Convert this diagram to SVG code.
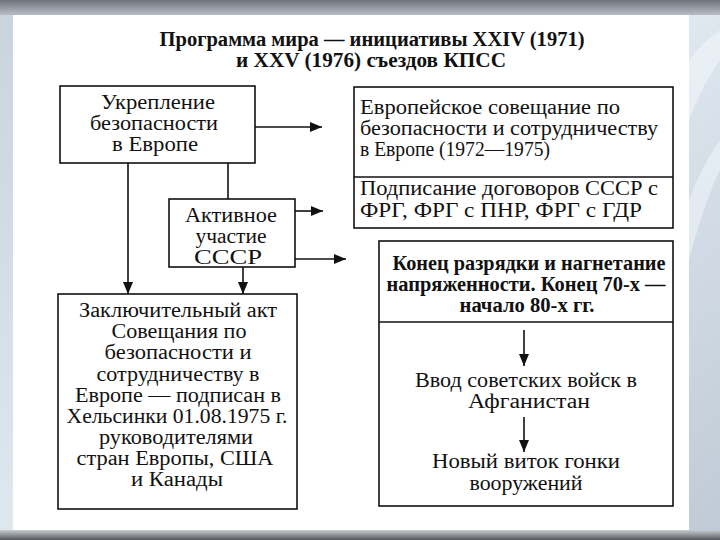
<svg xmlns="http://www.w3.org/2000/svg" width="720" height="540" viewBox="0 0 720 540">
<defs>
<linearGradient id="topg" x1="0" y1="0" x2="0" y2="1">
<stop offset="0" stop-color="#6f737b"/>
<stop offset="1" stop-color="#b9bec6"/>
</linearGradient>
<linearGradient id="botg" x1="0" y1="0" x2="0" y2="1">
<stop offset="0" stop-color="#c8cbd0"/>
<stop offset="1" stop-color="#55585e"/>
</linearGradient>
<linearGradient id="sideg" x1="0" y1="0" x2="1" y2="1">
<stop offset="0" stop-color="#c9d3de"/>
<stop offset="0.5" stop-color="#dfe7ef"/>
<stop offset="1" stop-color="#bfcad6"/>
</linearGradient>
<marker id="ah" markerWidth="12" markerHeight="10" refX="12" refY="5" orient="auto" markerUnits="userSpaceOnUse">
<path d="M0,0 L12,5 L0,10 Z" fill="#111"/>
</marker>
<style>
.box{fill:#fff;stroke:#111;stroke-width:1.6}
.ln{fill:none;stroke:#111;stroke-width:1.6}
.t{font-family:"Liberation Serif","Times New Roman",serif;font-size:20px;fill:#111}
.b{font-weight:bold}
.c{text-anchor:middle}
</style>
</defs>
<rect x="0" y="0" width="720" height="540" fill="url(#sideg)"/>
<path d="M689,60 Q705,40 720,30 L720,60 Q705,80 689,120 Z" fill="#eef3f8" opacity="0.7"/>
<path d="M689,200 Q705,160 720,140 L720,170 Q705,200 689,260 Z" fill="#eef3f8" opacity="0.6"/>
<rect x="0" y="0" width="720" height="15" fill="url(#topg)"/>
<rect x="0" y="530" width="720" height="10" fill="url(#botg)"/>
<rect x="13" y="15" width="676" height="515" fill="#fff"/>

<g id="title">
<text class="t b c" x="372" y="46" textLength="425" lengthAdjust="spacingAndGlyphs">Программа мира — инициативы XXIV (1971)</text>
<text class="t b c" x="371" y="67" textLength="270" lengthAdjust="spacingAndGlyphs">и XXV (1976) съездов КПСС</text>
</g>

<g id="node-ukreplenie">
<rect class="box" x="60" y="86" width="195" height="77"/>
<text class="t c" x="158" y="109" textLength="114" lengthAdjust="spacingAndGlyphs">Укрепление</text>
<text class="t c" x="154" y="130" textLength="128" lengthAdjust="spacingAndGlyphs">безопасности</text>
<text class="t c" x="155" y="151" textLength="86" lengthAdjust="spacingAndGlyphs">в Европе</text>
</g>

<g id="node-aktivnoe">
<rect class="box" x="169" y="199" width="126" height="68"/>
<text class="t c" x="231" y="222" textLength="92" lengthAdjust="spacingAndGlyphs">Активное</text>
<text class="t c" x="231" y="243" textLength="71" lengthAdjust="spacingAndGlyphs">участие</text>
<text class="t c" x="228" y="264" textLength="68" lengthAdjust="spacingAndGlyphs">СССР</text>
</g>

<g id="node-soveshchanie">
<rect class="box" x="354" y="87" width="319" height="141"/>
<line class="ln" x1="354" y1="177" x2="673" y2="177"/>
<text class="t" x="360" y="114" textLength="260" lengthAdjust="spacingAndGlyphs">Европейское совещание по</text>
<text class="t" x="360" y="135" textLength="298" lengthAdjust="spacingAndGlyphs">безопасности и сотрудничеству</text>
<text class="t" x="360" y="156" textLength="190" lengthAdjust="spacingAndGlyphs">в Европе (1972&#8212;1975)</text>
<text class="t" x="360" y="195" textLength="298" lengthAdjust="spacingAndGlyphs">Подписание договоров СССР с</text>
<text class="t" x="360" y="217" textLength="282" lengthAdjust="spacingAndGlyphs">ФРГ, ФРГ с ПНР, ФРГ с ГДР</text>
</g>

<g id="node-zaklyuchitelny">
<rect class="box" x="58" y="294" width="239" height="215"/>
<text class="t c" x="178" y="317" textLength="198" lengthAdjust="spacingAndGlyphs">Заключительный акт</text>
<text class="t c" x="179" y="338" textLength="135" lengthAdjust="spacingAndGlyphs">Совещания по</text>
<text class="t c" x="178" y="359" textLength="147" lengthAdjust="spacingAndGlyphs">безопасности и</text>
<text class="t c" x="178" y="381" textLength="163" lengthAdjust="spacingAndGlyphs">сотрудничеству в</text>
<text class="t c" x="178" y="402" textLength="206" lengthAdjust="spacingAndGlyphs">Европе — подписан в</text>
<text class="t c" x="177" y="423" textLength="221" lengthAdjust="spacingAndGlyphs">Хельсинки 01.08.1975 г.</text>
<text class="t c" x="176" y="444" textLength="154" lengthAdjust="spacingAndGlyphs">руководителями</text>
<text class="t c" x="175" y="465" textLength="197" lengthAdjust="spacingAndGlyphs">стран Европы, США</text>
<text class="t c" x="177" y="486" textLength="92" lengthAdjust="spacingAndGlyphs">и Канады</text>
</g>

<g id="node-konets">
<rect class="box" x="379" y="241" width="294" height="265"/>
<line class="ln" x1="379" y1="322" x2="673" y2="322"/>
<text class="t b c" x="529" y="270" textLength="273" lengthAdjust="spacingAndGlyphs">Конец разрядки и нагнетание</text>
<text class="t b c" x="526" y="291" textLength="279" lengthAdjust="spacingAndGlyphs">напряженности. Конец 70-х —</text>
<text class="t b c" x="527" y="312" textLength="135" lengthAdjust="spacingAndGlyphs">начало 80-х гг.</text>
<text class="t c" x="526" y="387" textLength="222" lengthAdjust="spacingAndGlyphs">Ввод советских войск в</text>
<text class="t c" x="529" y="408" textLength="122" lengthAdjust="spacingAndGlyphs">Афганистан</text>
<text class="t c" x="526" y="468" textLength="188" lengthAdjust="spacingAndGlyphs">Новый виток гонки</text>
<text class="t c" x="526" y="490" textLength="113" lengthAdjust="spacingAndGlyphs">вооружений</text>
</g>

<g id="connectors">
<line class="ln" x1="255" y1="127" x2="322" y2="127" marker-end="url(#ah)"/>
<line class="ln" x1="128" y1="163" x2="128" y2="294" marker-end="url(#ah)"/>
<line class="ln" x1="228" y1="163" x2="228" y2="199"/>
<line class="ln" x1="295" y1="211" x2="323" y2="211" marker-end="url(#ah)"/>
<line class="ln" x1="295" y1="259" x2="346" y2="259" marker-end="url(#ah)"/>
<line class="ln" x1="243" y1="267" x2="243" y2="294" marker-end="url(#ah)"/>
<line class="ln" x1="524" y1="330" x2="524" y2="366" marker-end="url(#ah)"/>
<line class="ln" x1="524" y1="417" x2="524" y2="452" marker-end="url(#ah)"/>
</g>
</svg>
